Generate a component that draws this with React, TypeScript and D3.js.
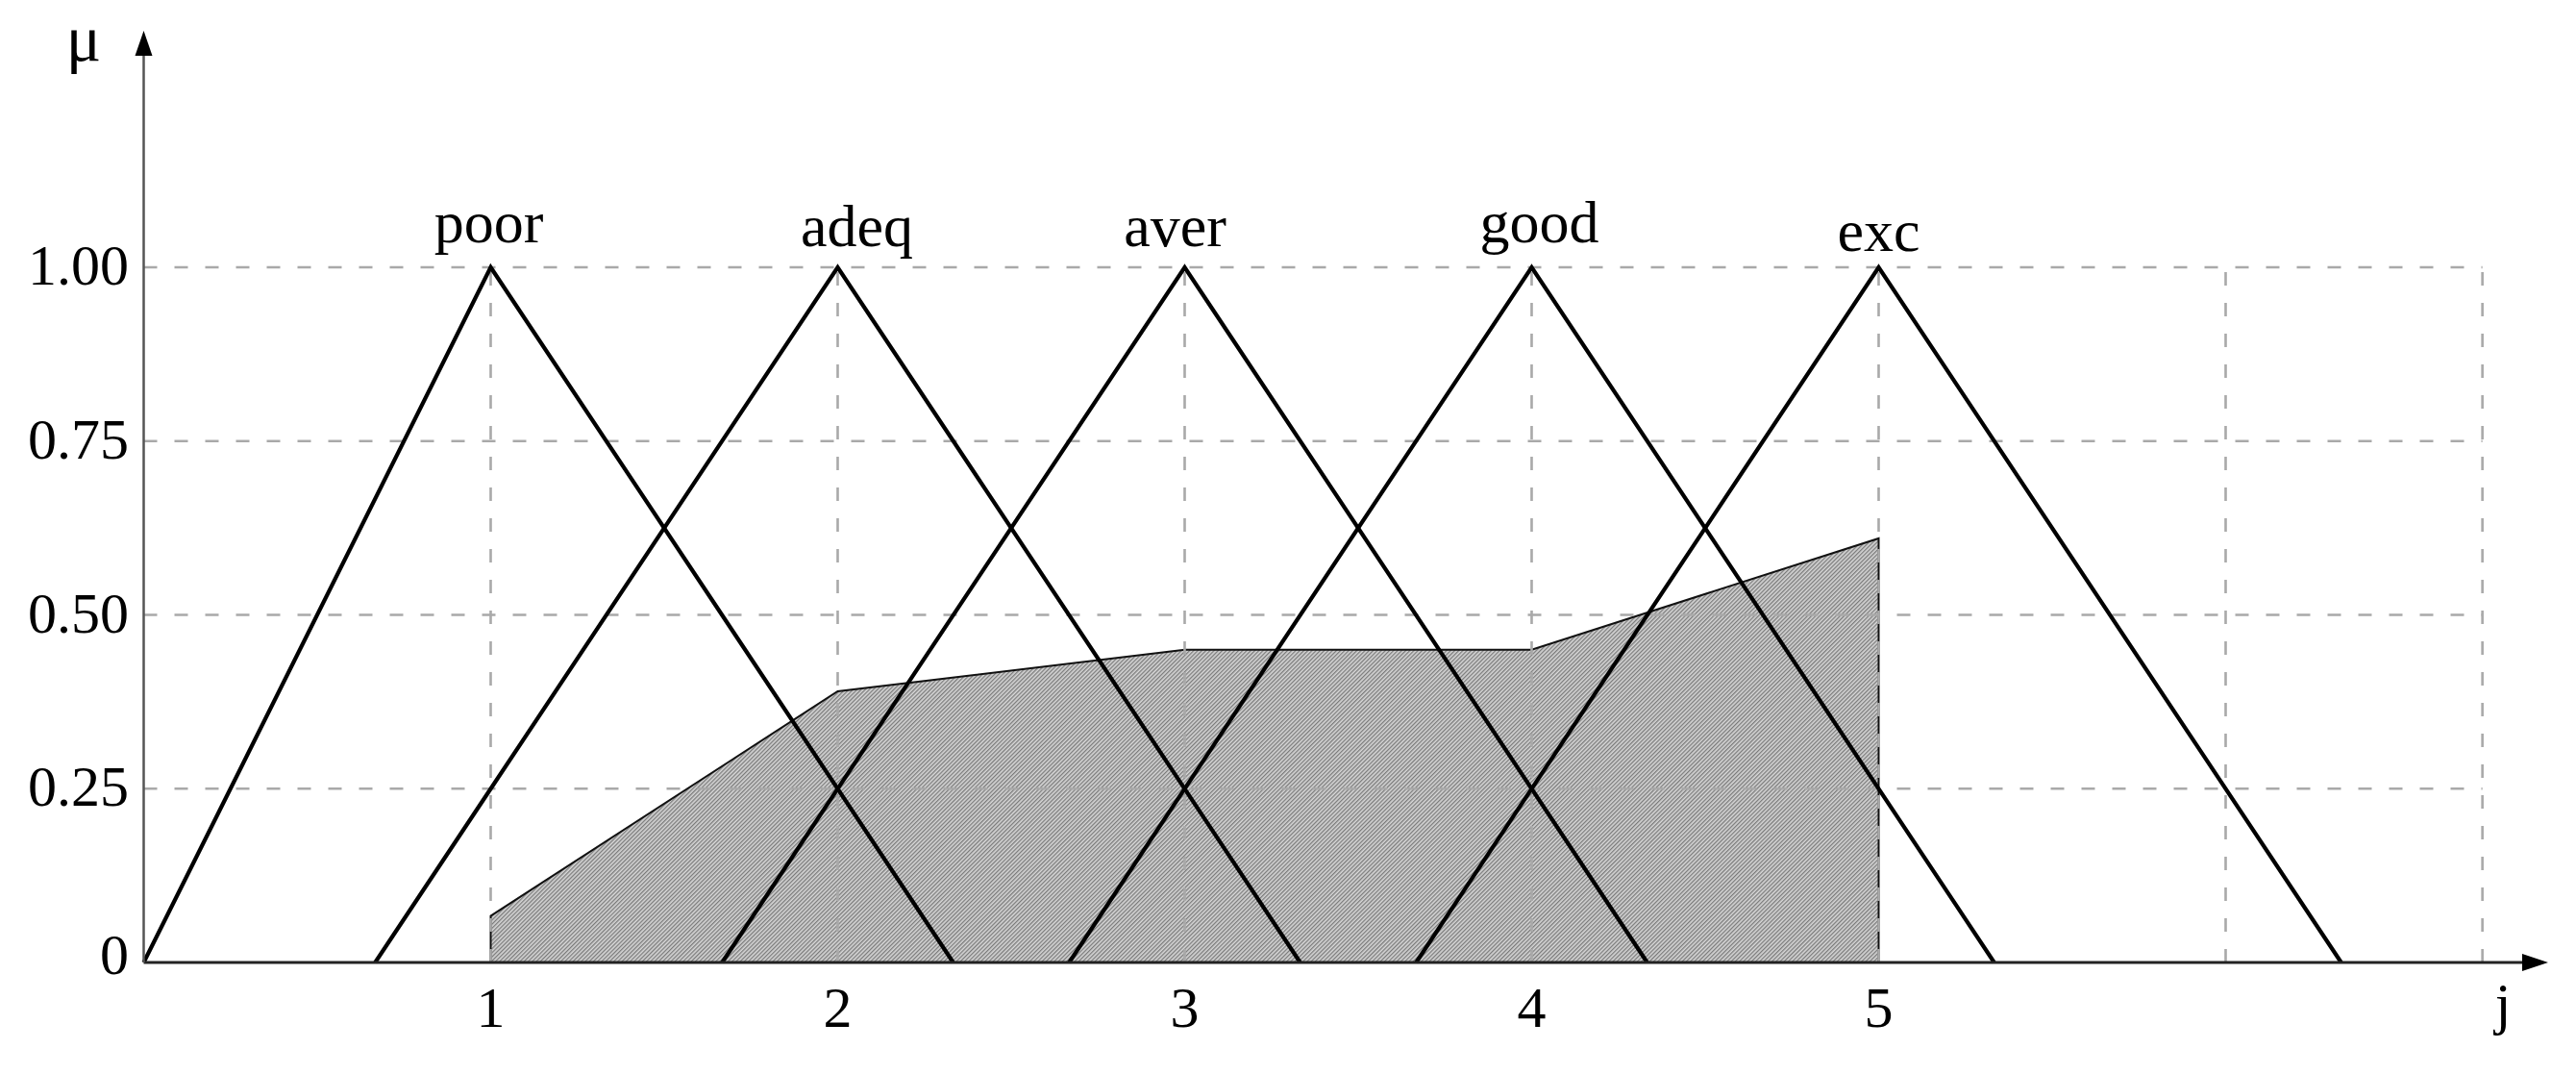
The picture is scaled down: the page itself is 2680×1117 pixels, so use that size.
import React, { useEffect } from "react";
import * as d3 from "d3";

// ---- data ----
const termNames = ["poor", "adeq", "aver", "good", "exc"];
const termLeft = [0, 0.667, 1.667, 2.667, 3.667];
const termPeak = [1, 2, 3, 4, 5];
const termRight = [2.333, 3.333, 4.333, 5.333, 6.333];

const aggJ = [1, 2, 3, 4, 5];
const aggMu = [0.067, 0.39, 0.45, 0.45, 0.61];

const xTickValues = [1, 2, 3, 4, 5];
const xGridValues = [1, 2, 3, 4, 5, 6, 6.74];
const yTickValues = [0, 0.25, 0.5, 0.75, 1.0];
const yTickLabels = ["0", "0.25", "0.50", "0.75", "1.00"];
const yGridValues = [0.25, 0.5, 0.75, 1.0];

// ---- layout ----
const W = 2680;
const H = 1117;
const X0 = 149.5;
const UNIT = 361;
const XMAX = 6.74;
const Y0 = 1001;
const Y1 = 278;
const FONT = "'Liberation Serif', 'Times New Roman', serif";
const labelDx = [-2, 20, -10, 8, 0];
const labelDy = [-26, -22, -22, -26, -17];

export default function App() {
  useEffect(() => {
    document.body.style.margin = "0";
  }, []);

  const x = d3.scaleLinear().domain([0, XMAX]).range([X0, X0 + XMAX * UNIT]);
  const y = d3.scaleLinear().domain([0, 1]).range([Y0, Y1]);

  const line = d3
    .line<[number, number]>()
    .x((d) => x(d[0]))
    .y((d) => y(d[1]));

  const aggPoints: [number, number][] = [
    [aggJ[0], 0],
    ...aggJ.map((j, i) => [j, aggMu[i]] as [number, number]),
    [aggJ[aggJ.length - 1], 0],
  ];
  const aggPath = line(aggPoints) + "Z";

  const xAxisEnd = 2651;
  const yAxisTop = 32;

  return (
    <svg width={W} height={H} style={{ display: "block", background: "#fff" }}>
      <defs>
        <pattern id="hatch" width="3" height="3" patternUnits="userSpaceOnUse" patternTransform="rotate(45)">
          <rect width="3" height="3" fill="#d6d6d6" />
          <rect width="1.3" height="3" fill="#7a7a7a" />
        </pattern>
      </defs>

      {/* aggregated shaded area */}
      <path d={aggPath} fill="url(#hatch)" stroke="#111" strokeWidth={2} />

      {/* grid */}
      <g stroke="#a9a9a9" strokeWidth={2.6} strokeDasharray="14,18" fill="none">
        {yGridValues.map((v) => (
          <line key={"h" + v} x1={x(0)} x2={x(XMAX)} y1={y(v)} y2={y(v)} />
        ))}
        {xGridValues.map((v) => (
          <line key={"v" + v} x1={x(v)} x2={x(v)} y1={y(0)} y2={y(1)} />
        ))}
      </g>

      {/* membership triangles */}
      <g fill="none" stroke="#000" strokeWidth={4.2} strokeLinejoin="miter">
        {termNames.map((n, i) => (
          <path
            key={n}
            d={
              line([
                [termLeft[i], 0],
                [termPeak[i], 1],
                [termRight[i], 0],
              ]) || ""
            }
          />
        ))}
      </g>

      {/* axes */}
      <line x1={X0} x2={xAxisEnd - 20} y1={Y0} y2={Y0} stroke="#222" strokeWidth={3} />
      <path d={`M${xAxisEnd},${Y0} L${xAxisEnd - 27},${Y0 - 9} L${xAxisEnd - 27},${Y0 + 9} Z`} fill="#000" />
      <line x1={X0} x2={X0} y1={Y0} y2={yAxisTop + 20} stroke="#555" strokeWidth={2.5} />
      <path d={`M${X0},${yAxisTop} L${X0 - 9},${yAxisTop + 26} L${X0 + 9},${yAxisTop + 26} Z`} fill="#000" />

      {/* tick labels */}
      <g fontFamily={FONT} fontSize={60} fill="#000">
        {xTickValues.map((v) => (
          <text key={"xt" + v} x={x(v)} y={1068} textAnchor="middle">
            {v}
          </text>
        ))}
        {yTickValues.map((v, i) => (
          <text key={"yt" + v} x={134} y={y(v) + (v === 0 ? 12 : 18)} textAnchor="end">
            {yTickLabels[i]}
          </text>
        ))}
        <text x={2604} y={1064} textAnchor="middle">j</text>
        <text x={87} y={63} textAnchor="middle" fontSize={68}>μ</text>
      </g>

      {/* term labels */}
      <g fontFamily={FONT} fontSize={62} fill="#000">
        {termNames.map((n, i) => (
          <text key={"l" + n} x={x(termPeak[i]) + labelDx[i]} y={y(1) + labelDy[i]} textAnchor="middle">
            {n}
          </text>
        ))}
      </g>
    </svg>
  );
}
